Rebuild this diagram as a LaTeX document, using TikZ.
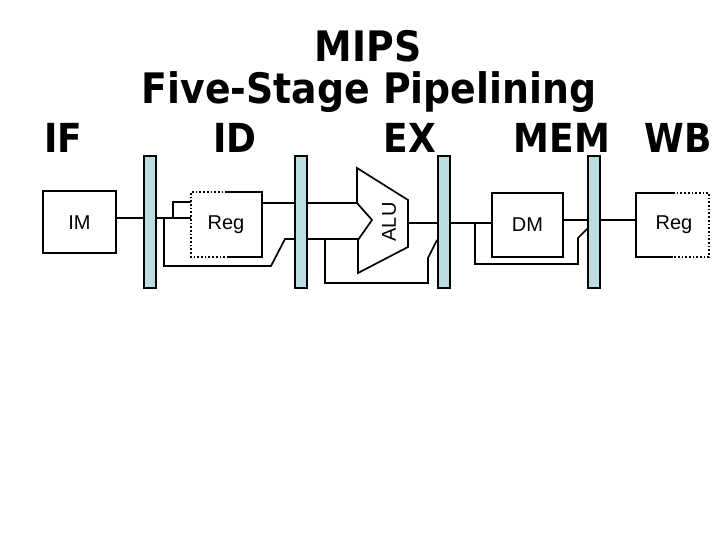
\documentclass[tikz,border=0pt]{standalone}
\usepackage{fontspec}
\setmainfont{DejaVu Sans Condensed}
\newfontfamily\unitfont{Liberation Sans}
\usepackage{tikz}
\usetikzlibrary{positioning}
\definecolor{latch}{HTML}{B9DDE1}

\begin{document}
\begin{tikzpicture}[x=1pt,y=-1pt,line width=1.7pt,
  wire/.style={line width=1.7pt},
  unit/.style={draw,line width=1.7pt},
  bar/.style={draw,fill=latch,line width=1.7pt},
  stage/.style={font=\fontsize{40}{40}\selectfont\bfseries},
  lbl/.style={font=\fontsize{20}{20}\selectfont\unitfont}]
\useasboundingbox (0,0) rectangle (720,540);

% title
\node[font=\fontsize{42}{42}\selectfont\bfseries] (t1) at (368,46) {MIPS};
\node[font=\fontsize{42}{42}\selectfont\bfseries] (t2) at (369,92) {Five-Stage Pipelining};

% stages
\node[stage] (sIF) at (63,138) {IF};
\node[stage] (sID) at (235,138) {ID};
\node[stage] (sEX) at (410,138) {EX};
\node[stage] (sMEM) at (562,138) {MEM};
\node[stage] (sWB) at (678,138) {WB};

% pipeline latches
\foreach \x/\n in {144/b1,295/b2,438/b3,588/b4}
  \draw[bar] (\x,156) rectangle (\x+12,288);

% IM
\draw[unit] (43,191) rectangle (116,253);
\node[lbl] (im) at (79.5,223) {IM};
\draw[wire] (116,218) -- (144,218);

% Reg (read)
\draw[wire] (227,192) -- (262,192) -- (262,257) -- (227,257);
\draw[wire,dotted] (227,192) -- (191,192) -- (191,257) -- (227,257);
\node[lbl] (reg1) at (226,225) {Reg};
\draw[wire] (156,218) -- (191,218);
\draw[wire] (173,218) -- (173,202) -- (191,202);
\draw[wire] (164,218) -- (164,266) -- (271,266) -- (285,239) -- (295,239);
\draw[wire] (262,203) -- (295,203);

% ALU
\draw[unit] (357,168) -- (408,200) -- (408,247) -- (358,273) -- (358,240)
  -- (372,220) -- (357,203) -- cycle;
\node[lbl,rotate=90] (alu) at (389,222) {ALU};
\draw[wire] (307,203) -- (357,203);
\draw[wire] (307,239) -- (358,239);
\draw[wire] (325,239) -- (325,283) -- (428,283) -- (428,258) -- (437,240);
\draw[wire] (408,223) -- (438,223);

% DM
\draw[unit] (492,193) rectangle (563,257);
\node[lbl] (dm) at (527.5,225) {DM};
\draw[wire] (450,223) -- (492,223);
\draw[wire] (475,223) -- (475,264) -- (578,264) -- (578,238) -- (588,228);
\draw[wire] (563,220) -- (588,220);

% Reg (write)
\draw[wire] (673,193) -- (636,193) -- (636,257) -- (673,257);
\draw[wire,dotted] (673,193) -- (709,193) -- (709,257) -- (673,257);
\node[lbl] (reg2) at (674,225) {Reg};
\draw[wire] (600,220) -- (636,220);
\end{tikzpicture}
\end{document}
